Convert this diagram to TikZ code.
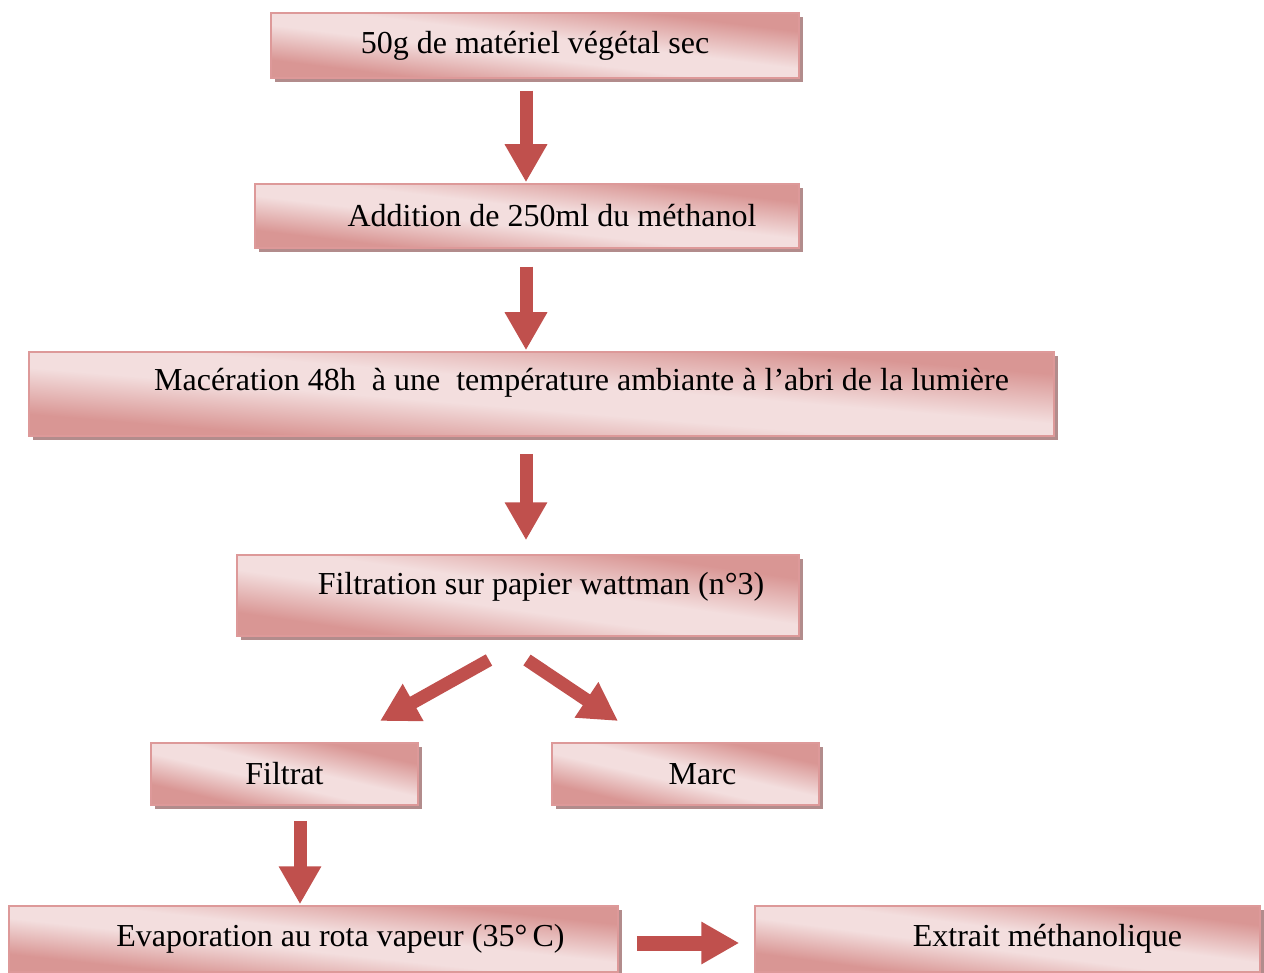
\documentclass[tikz,border=0pt]{standalone}
\usepackage{fontspec}
\setmainfont{Liberation Serif}
\usetikzlibrary{arrows.meta,shadows}
\definecolor{dk}{RGB}{217,150,148}
\definecolor{lt}{RGB}{243,222,222}
\definecolor{bord}{RGB}{221,153,153}
\definecolor{shad}{RGB}{178,140,140}
\definecolor{arrc}{RGB}{192,80,77}
\pgfdeclarehorizontalshading{boxshade}{100bp}{color(0bp)=(dk); color(30bp)=(dk); color(45bp)=(lt); color(54bp)=(lt); color(70bp)=(dk); color(100bp)=(dk)}
\begin{document}
\begin{tikzpicture}[x=1pt,y=-1pt, font=\fontsize{32}{38}\selectfont,
 box/.style={rectangle, draw=bord, line width=1.5pt, shade, shading=boxshade, shading angle=#1, inner sep=0pt,
   drop shadow={shadow xshift=4pt, shadow yshift=-4pt, fill=shad, opacity=1}},
 arr/.style={draw=arrc, line width=13pt, -{Triangle[width=40pt,length=38pt,fill=arrc]}}]
\useasboundingbox (0,0) rectangle (1264,973);

\node[box=83, minimum width=528pt, minimum height=65pt] (n1) at (535,45.5) {50g de matériel végétal sec};
\node[box=83.3, minimum width=544pt, minimum height=64pt] (n2) at (527,216) {\hspace*{50pt}Addition de 250ml du méthanol};
\node[box=85.3, minimum width=1025pt, minimum height=84pt] (n3) at (541.5,394) {\hspace*{80pt}\raisebox{11pt}[\height][\depth]{Macération 48h\ \ à une\ \ température ambiante à l’abri de la lumière}};
\node[box=81.8, minimum width=562pt, minimum height=81pt] (n4) at (518,595.5) {\hspace*{46pt}\raisebox{9pt}[\height][\depth]{Filtration sur papier wattman (n°3)}};
\node[box=76.9, minimum width=267pt, minimum height=62pt] (n5) at (284.5,774) {Filtrat};
\node[box=76.9, minimum width=267pt, minimum height=62pt] (n6) at (685.5,774) {\hspace*{34pt}Marc};
\node[box=83.8, minimum width=609pt, minimum height=66pt] (n7) at (313.5,939) {\hspace*{54pt}Evaporation au rota vapeur (35°\,C)};
\node[box=82.5, minimum width=505pt, minimum height=66pt] (n8) at (1007.5,939) {\hspace*{80pt}Extrait méthanolique};

\coordinate (a4s) at (489,660);
\coordinate (a4e) at (380,721);
\coordinate (a5s) at (527,660);
\coordinate (a5e) at (618,721);

\draw[arr, shorten <=12pt, shorten >=1pt] (n1.south -| 526,0) -- (n2.north -| 526,0);
\draw[arr, shorten <=18pt, shorten >=1pt] (n2.south -| 526,0) -- (n3.north -| 526,0);
\draw[arr, shorten <=17pt, shorten >=14pt] (n3.south -| 526,0) -- (n4.north -| 526,0);
\draw[arr] (a4s) -- (a4e);
\draw[arr] (a5s) -- (a5e);
\draw[arr, shorten <=15pt, shorten >=1pt] (n5.south -| 300,0) -- (n7.north -| 300,0);
\draw[arr, line width=15pt, shorten <=18pt, shorten >=15pt] (n7.east |- 0,943) -- (n8.west |- 0,943);
\end{tikzpicture}
\end{document}
